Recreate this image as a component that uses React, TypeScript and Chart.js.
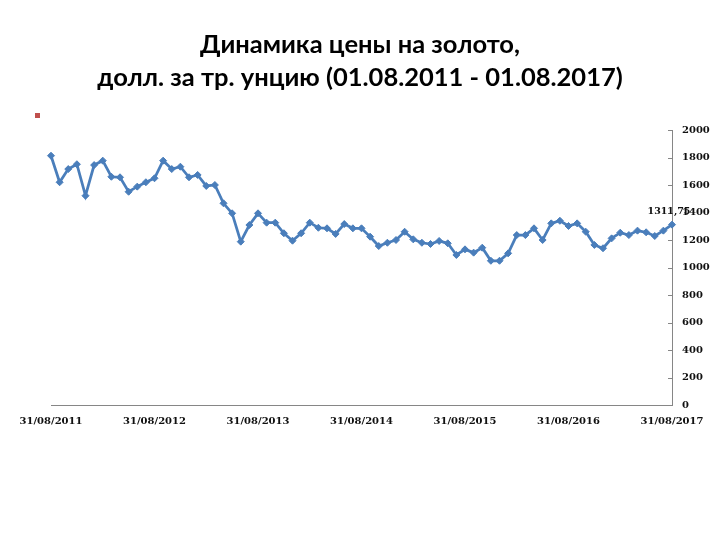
import React, { useEffect, useRef } from 'react';
import { Chart, registerables } from 'chart.js';

Chart.register(...registerables);

const titleLines = ['Динамика цены на золото,', 'долл. за тр. унцию (01.08.2011 - 01.08.2017)'];

const xTickLabels = ['31/08/2011', '31/08/2012', '31/08/2013', '31/08/2014', '31/08/2015', '31/08/2016', '31/08/2017'];

// monthly gold price, Aug 2011 .. Aug 2017 (73 points)
const goldPrices = [
  1813, 1620, 1716, 1751, 1522, 1745, 1777, 1660, 1656, 1551, 1588, 1620,
  1649, 1777, 1716, 1733, 1656, 1673, 1593, 1600, 1467, 1394, 1188, 1309,
  1394, 1326, 1326, 1249, 1195, 1249, 1326, 1289, 1285, 1244, 1316, 1285,
  1285, 1224, 1156, 1180, 1200, 1260, 1205, 1180, 1171, 1193, 1176, 1091,
  1132, 1108, 1144, 1049, 1049, 1103, 1236, 1236, 1285, 1200, 1321, 1340,
  1302, 1321, 1260, 1164, 1140, 1212, 1253, 1236, 1268, 1256, 1229, 1268,
  1311.75,
];

const lastValueLabel = '1311,75';

const yMin = 0;
const yMax = 2000;
const yStep = 200;
const monthsPerTick = 12;

const LINE_COLOR = '#4A7EBB';
const AXIS_COLOR = '#868686';
const TEXT_COLOR = '#111';
const TICK_FONT = '"DejaVu Serif", serif';

export default function App() {
  const ref = useRef<HTMLCanvasElement | null>(null);

  useEffect(() => {
    if (!ref.current) return;

    const decorPlugin = {
      id: 'decor',
      afterDraw(chart: any) {
        const ctx = chart.ctx;
        const yScale = chart.scales.y;
        const area = chart.chartArea;
        ctx.save();
        // title
        ctx.fillStyle = '#000';
        ctx.font = 'bold 25.5px Lato, "Open Sans", sans-serif';
        ctx.textAlign = 'center';
        ctx.textBaseline = 'middle';
        ctx.fillText(titleLines[0], 360, 45);
        ctx.fillText(titleLines[1], 360, 78);
        // legend marker
        ctx.fillStyle = '#C0504D';
        ctx.fillRect(35, 113, 5, 5);
        // inner tick marks on y axis
        ctx.strokeStyle = AXIS_COLOR;
        ctx.lineWidth = 1;
        yScale.ticks.forEach((t: any) => {
          const py = Math.round(yScale.getPixelForValue(t.value)) + 0.5;
          ctx.beginPath();
          ctx.moveTo(area.right - 4, py);
          ctx.lineTo(area.right, py);
          ctx.stroke();
        });
        // data label on last point
        const meta = chart.getDatasetMeta(0);
        const last = meta.data[meta.data.length - 1];
        ctx.fillStyle = TEXT_COLOR;
        ctx.font = `bold 9.5px ${TICK_FONT}`;
        ctx.textAlign = 'center';
        ctx.textBaseline = 'bottom';
        ctx.fillText(lastValueLabel, last.x - 3, last.y - 8);
        ctx.restore();
      },
    };

    const chart = new Chart(ref.current, {
      type: 'line',
      data: {
        datasets: [
          {
            data: goldPrices.map((v, i) => ({ x: i, y: v })),
            borderColor: LINE_COLOR,
            backgroundColor: LINE_COLOR,
            borderWidth: 2.75,
            pointStyle: 'rectRot',
            pointRadius: 3.5,
            pointBorderWidth: 1,
            pointBackgroundColor: LINE_COLOR,
            pointBorderColor: LINE_COLOR,
            tension: 0,
            clip: false,
          },
        ],
      },
      options: {
        responsive: false,
        animation: false,
        layout: { padding: { left: 51, top: 130, right: 0, bottom: 0 } },
        plugins: {
          legend: { display: false },
          title: { display: false },
          tooltip: { enabled: false },
        },
        scales: {
          x: {
            type: 'linear',
            min: 0,
            max: goldPrices.length - 1,
            grid: { display: false, drawTicks: false },
            border: { display: true, color: AXIS_COLOR, width: 1 },
            ticks: {
              stepSize: monthsPerTick,
              autoSkip: false,
              maxRotation: 0,
              padding: 10,
              color: TEXT_COLOR,
              font: { family: TICK_FONT, size: 10, weight: 'bold' },
              callback: (v: any) => xTickLabels[Math.round(Number(v) / monthsPerTick)] ?? '',
            },
            afterFit: (s: any) => {
              s.height = 135;
            },
          },
          y: {
            position: 'right',
            min: yMin,
            max: yMax,
            grid: { display: false, drawTicks: false },
            border: { display: true, color: AXIS_COLOR, width: 1 },
            ticks: {
              stepSize: yStep,
              padding: 10,
              color: TEXT_COLOR,
              font: { family: TICK_FONT, size: 10, weight: 'bold' },
              callback: (v: any) => String(v),
            },
            afterFit: (s: any) => {
              s.width = 48;
            },
          },
        },
      },
      plugins: [decorPlugin],
    });

    return () => chart.destroy();
  }, []);

  return (
    <div style={{ position: 'absolute', left: 0, top: 0, width: 720, height: 540, background: '#fff' }}>
      <canvas ref={ref} width={720} height={540} />
    </div>
  );
}
